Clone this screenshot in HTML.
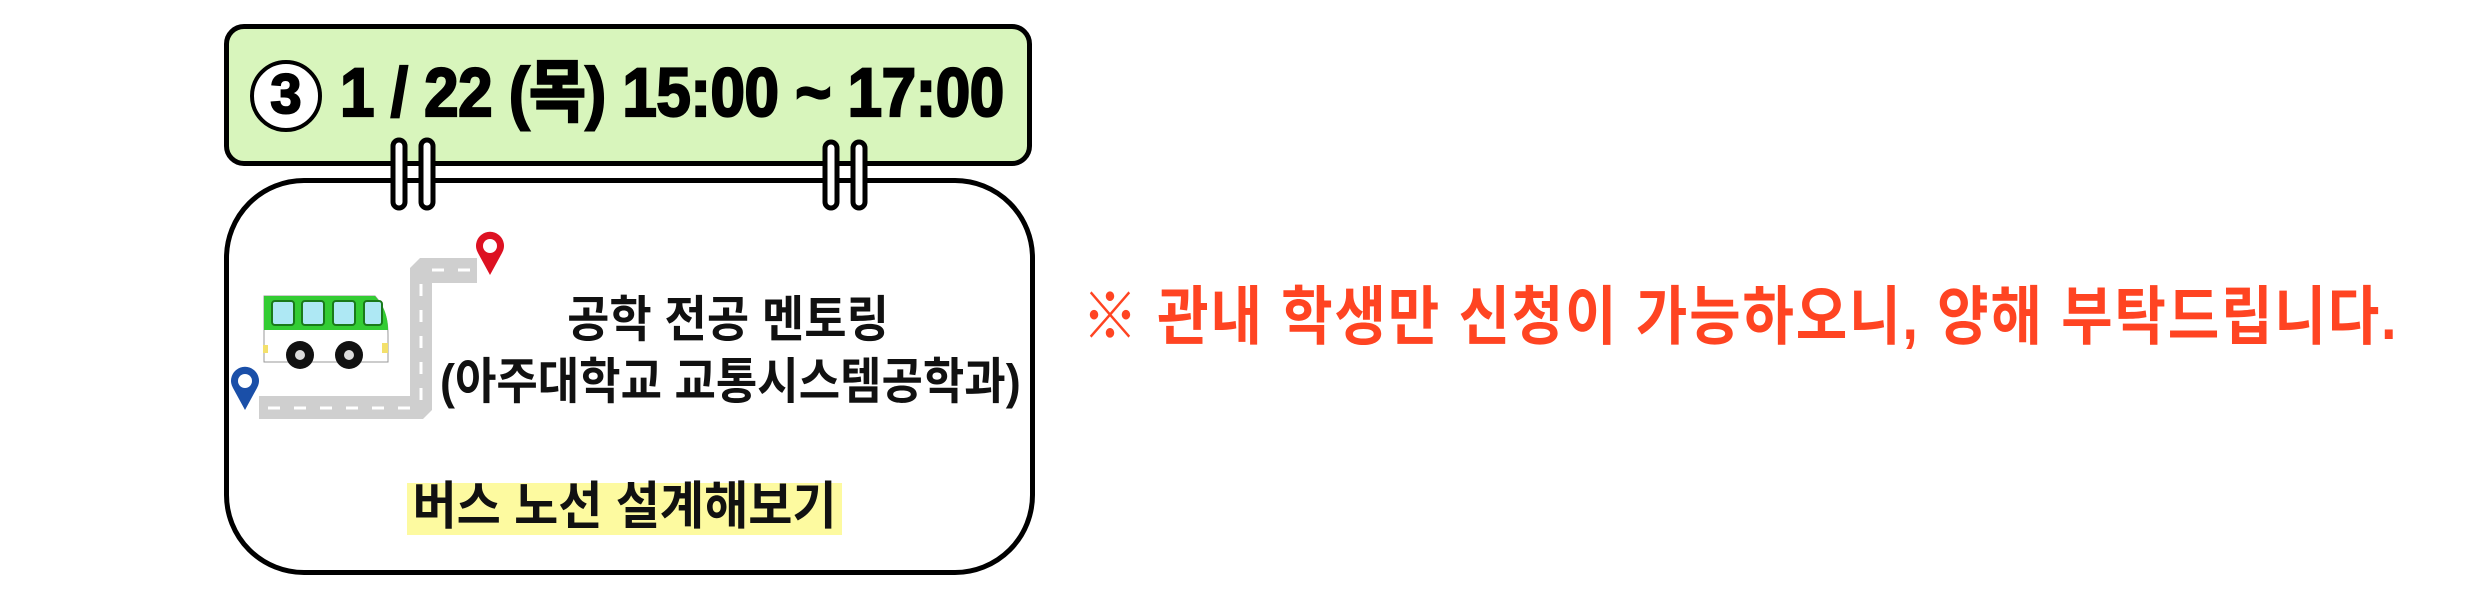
<!DOCTYPE html>
<html><head><meta charset="utf-8"><style>
body{margin:0;width:2480px;height:590px;background:#fff;position:relative;overflow:hidden;font-family:"Liberation Sans","Noto Sans CJK KR",sans-serif}
.abs{position:absolute}
.t{position:absolute;white-space:nowrap;font-weight:bold;line-height:1}
</style></head><body>
<div class="abs" style="left:224px;top:24px;width:798px;height:132px;background:#d8f5bc;border:5px solid #000;border-radius:20px"></div>
<div class="abs" style="left:250px;top:60px;width:64px;height:64px;border:4px solid #000;border-radius:50%;background:#fff"></div>
<div class="t" style="left:250px;top:66px;width:72px;text-align:center;font-size:56px;color:#000;-webkit-text-stroke:2px #000">3</div>
<div class="t" style="left:340px;top:60px;font-size:62px;color:#000;letter-spacing:-0.5px;-webkit-text-stroke:2px #000;transform:scaleY(1.1);transform-origin:left top">1 / 22 (목) 15:00 ~ 17:00</div>
<div class="abs" style="left:224px;top:178px;width:801px;height:387px;border:5px solid #000;border-radius:80px;background:#fff"></div>
<svg class="abs" style="left:0;top:0" width="1100" height="590">
<g fill="#fff" stroke="#000" stroke-width="5">
<rect x="393" y="140" width="12" height="68" rx="6"/><rect x="421" y="140" width="12" height="68" rx="6"/>
<rect x="825" y="142" width="12" height="66" rx="6"/><rect x="853" y="142" width="12" height="66" rx="6"/>
</g>
<path d="M259 396 H410 V268 L420 258 H477 V283 H432 V410 L423 419 H259 Z" fill="#cfcfcf"/>
<g stroke="#fff" stroke-width="3" stroke-dasharray="12 14"><line x1="268" y1="408" x2="420" y2="408"/><line x1="421" y1="400" x2="421" y2="275"/><line x1="432" y1="270" x2="475" y2="270"/></g>
<path d="M264 296 H375 Q388 310 388 335 V362 H264 Z" fill="#fff" stroke="#999" stroke-width="1"/>
<path d="M264 296 H375 Q388 310 388 330 H264 Z" fill="#33cc33"/>
<g fill="#aee8f4" stroke="#1a7a1a" stroke-width="2"><rect x="272" y="301" width="22" height="24" rx="3"/><rect x="302" y="301" width="22" height="24" rx="3"/><rect x="333" y="301" width="22" height="24" rx="3"/><rect x="364" y="301" width="18" height="24" rx="3"/></g>
<rect x="263" y="345" width="5" height="8" fill="#f3e06b"/><rect x="382" y="343" width="6" height="10" fill="#f3e06b"/>
<g fill="#111"><circle cx="300" cy="355" r="14"/><circle cx="349" cy="355" r="14"/></g>
<g fill="#ddd"><circle cx="300" cy="355" r="5"/><circle cx="349" cy="355" r="5"/></g>
<path d="M490 275 L478 253 A14 14 0 1 1 502 253 Z" fill="#dd1122"/><circle cx="490" cy="246" r="7" fill="#fff"/>
<path d="M245 410 L233 388 A14 14 0 1 1 257 388 Z" fill="#1a4fa8"/><circle cx="245" cy="381" r="7" fill="#fff"/>
</svg>
<div class="t" style="left:528px;top:296px;width:400px;text-align:center;font-size:46px;color:#111;transform:scaleY(1.08)">공학 전공 멘토링</div>
<div class="t" style="left:440px;top:359px;width:575px;text-align:center;font-size:45px;color:#111;transform:scaleY(1.1)">(아주대학교 교통시스템공학과)</div>
<div class="abs" style="left:407px;top:483px;width:435px;height:52px;background:#fdfaa0"></div>
<div class="t" style="left:407px;top:484px;width:435px;text-align:center;font-size:48px;color:#111;transform:scaleY(1.08)">버스 노선 설계해보기</div>
<div class="t" style="left:1082px;top:285px;font-size:56px;color:#ff4422;letter-spacing:1.8px;transform:scaleY(1.15);transform-origin:left top">※ 관내 학생만 신청이 가능하오니, 양해 부탁드립니다.</div>
</body></html>
